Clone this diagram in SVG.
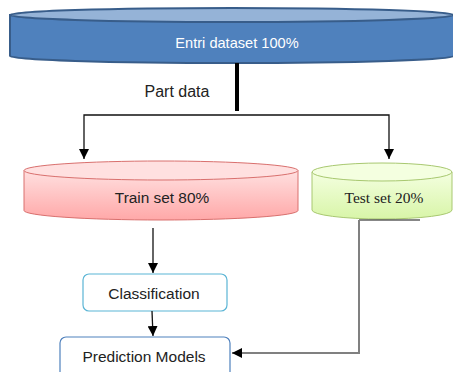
<svg xmlns="http://www.w3.org/2000/svg" width="453" height="372" viewBox="0 0 453 372">
<defs>
<style>
.t{font-family:"Liberation Sans",Arial,sans-serif;text-anchor:middle;fill:#222}
.ln{fill:none;stroke:#111;stroke-width:1.3}
</style>
<marker id="ah" viewBox="0 0 10 10" refX="10" refY="5" markerWidth="10" markerHeight="10" markerUnits="userSpaceOnUse" orient="auto">
<path d="M0,0 L10,5 L0,10 Z" fill="#000"/>
</marker>
<linearGradient id="gr" x1="0" y1="0" x2="0" y2="1">
<stop offset="0" stop-color="#ffe0e0"/><stop offset="1" stop-color="#ffa8a8"/>
</linearGradient>
<linearGradient id="gg" x1="0" y1="0" x2="0" y2="1">
<stop offset="0" stop-color="#f4ffe0"/><stop offset="1" stop-color="#d8f5a8"/>
</linearGradient>
</defs>
<g id="entri">
<path d="M10,15 L10,56 A222,7 0 0 0 454,56 L454,15 Z" fill="#4f81bd" stroke="#385d8a" stroke-width="2"/>
<ellipse cx="232" cy="15" rx="222" ry="7" fill="#95b3d7" stroke="#385d8a" stroke-width="2"/>
<text x="237" y="48" class="t" style="fill:#fff;font-size:14.6px">Entri dataset 100%</text>
</g>
<g id="train">
<path d="M24,170.5 L24,210.5 A137,9.5 0 0 0 298,210.5 L298,170.5 Z" fill="url(#gr)" stroke="#d9706e" stroke-width="1"/>
<ellipse cx="161" cy="170.5" rx="137" ry="9.5" fill="#ffe0e0" stroke="#d9706e" stroke-width="1"/>
<text x="162" y="203" class="t" style="font-size:15.4px">Train set 80%</text>
</g>
<g id="test">
<path d="M312,172 L312,210 A70,9 0 0 0 452,210 L452,172 Z" fill="url(#gg)" stroke="#a8c870" stroke-width="1"/>
<ellipse cx="382" cy="172" rx="70" ry="9" fill="#f4ffe0" stroke="#a8c870" stroke-width="1"/>
<text x="384" y="203" class="t" style="font-family:'Liberation Serif','Times New Roman',serif;font-size:15.5px">Test set 20%</text>
</g>
<g id="classification">
<rect x="83" y="274" width="144" height="37" rx="6" fill="#fff" stroke="#5bb5d5" stroke-width="1.2"/>
<text x="154" y="299" class="t" style="font-size:15.5px">Classification</text>
</g>
<g id="prediction">
<rect x="60" y="337" width="170" height="45" rx="6" fill="#fff" stroke="#4f81bd" stroke-width="1.2"/>
<text x="144" y="362" class="t" style="font-size:15.5px">Prediction Models</text>
</g>
<g id="connectors">
<line x1="237" y1="63" x2="237" y2="111" stroke="#000" stroke-width="4"/>
<text x="177" y="97" class="t" style="font-size:16px">Part data</text>
<path class="ln" d="M237,115 L84,115 L84,159" marker-end="url(#ah)"/>
<path class="ln" d="M237,115 L389,115 L389,159" marker-end="url(#ah)"/>
<line x1="359" y1="220" x2="420" y2="220" stroke="#111" stroke-width="1.2"/>
<path d="M359,220 L359,353 L232,353" fill="none" stroke="#808080" stroke-width="2" marker-end="url(#ah)"/>
<line class="ln" x1="153" y1="228" x2="153" y2="273" marker-end="url(#ah)"/>
<line class="ln" x1="152" y1="311" x2="153" y2="336" marker-end="url(#ah)"/>
</g>
</svg>
